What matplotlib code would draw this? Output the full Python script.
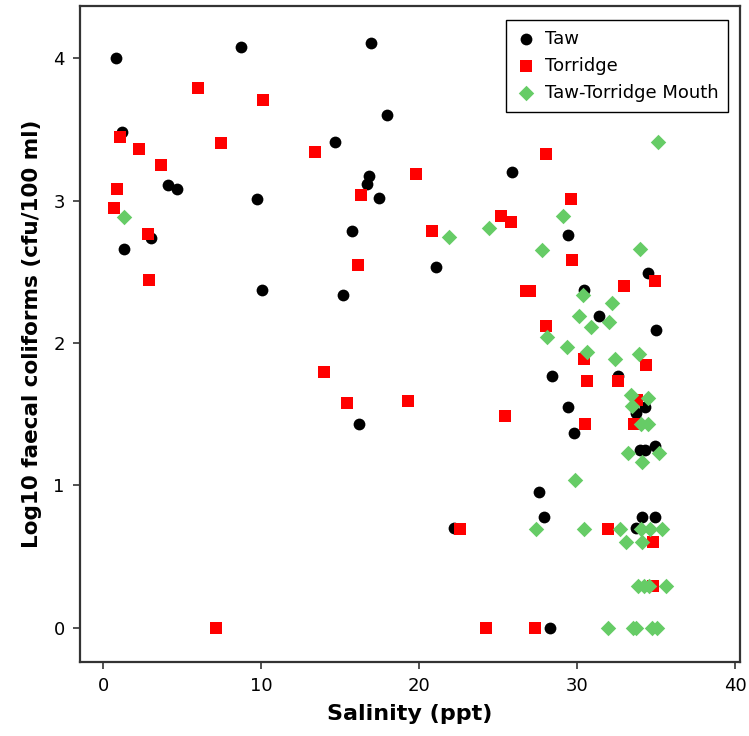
import matplotlib
matplotlib.use("Agg")
import matplotlib.pyplot as plt

# salinity (ppt) and log10 faecal coliforms for each site group
taw_sal = [0.8, 8.75, 16.96, 17.97, 1.22, 14.7, 4.13, 4.66, 9.77, 16.8,
           16.7, 17.47, 15.78, 25.9, 3.04, 1.31, 21.06, 10.08, 15.2, 29.4,
           34.5, 30.4, 31.35, 35.0, 28.4, 32.6, 29.4, 34.26, 33.7, 29.77,
           34.0, 34.3, 34.9, 27.6, 27.9, 34.1, 34.9, 33.7, 28.3, 16.2, 22.2]
taw_fc = [4.0, 4.08, 4.11, 3.60, 3.48, 3.41, 3.11, 3.08, 3.015, 3.17,
          3.12, 3.02, 2.79, 3.20, 2.74, 2.66, 2.535, 2.37, 2.34, 2.76,
          2.49, 2.37, 2.19, 2.09, 1.77, 1.77, 1.55, 1.55, 1.51, 1.37,
          1.25, 1.25, 1.28, 0.955, 0.78, 0.78, 0.78, 0.70, 0.0, 1.43, 0.70]

torr_sal = [5.99, 10.1, 1.08, 2.3, 7.49, 13.44, 3.65, 0.89, 0.72, 2.83,
            2.91, 19.8, 16.3, 20.8, 16.1, 25.2, 25.8, 26.77, 27.03, 28.0,
            28.0, 14.0, 7.17, 15.46, 19.3, 25.4, 22.6, 24.24, 27.36, 29.6,
            29.7, 32.95, 34.9, 30.44, 34.37, 30.6, 32.55, 33.8, 30.5, 33.6,
            31.94, 34.8, 34.77]
torr_fc = [3.79, 3.705, 3.445, 3.36, 3.405, 3.34, 3.25, 3.08, 2.95, 2.765,
           2.44, 3.19, 3.04, 2.79, 2.545, 2.89, 2.85, 2.365, 2.365, 3.33,
           2.12, 1.80, 0.0, 1.58, 1.59, 1.485, 0.695, 0.0, 0.0, 3.015,
           2.58, 2.40, 2.435, 1.885, 1.846, 1.73, 1.73, 1.60, 1.43, 1.43,
           0.695, 0.60, 0.297]

mouth_sal = [1.31, 21.9, 24.4, 27.8, 35.1, 29.1, 34.0, 30.36, 32.2, 30.1,
             30.9, 32.0, 28.1, 29.35, 30.6, 32.4, 33.9, 33.4, 34.5, 33.46,
             34.05, 34.5, 33.2, 35.15, 34.1, 29.87, 27.42, 30.44, 32.72, 34.05,
             34.6, 35.36, 33.08, 34.13, 33.84, 34.2, 34.56, 35.63, 31.94, 33.54,
             33.7, 34.73, 35.04]
mouth_fc = [2.884, 2.746, 2.81, 2.655, 3.41, 2.895, 2.66, 2.34, 2.28, 2.19,
            2.115, 2.15, 2.04, 1.974, 1.94, 1.886, 1.92, 1.635, 1.616, 1.56,
            1.43, 1.43, 1.226, 1.226, 1.167, 1.039, 0.695, 0.695, 0.695, 0.695,
            0.695, 0.695, 0.60, 0.60, 0.297, 0.297, 0.297, 0.297, 0.0, 0.0,
            0.0, 0.0, 0.0]

plt.rcParams["font.family"] = ["DejaVu Sans"]

fig = plt.figure(figsize=(7.49, 7.36), dpi=100)
ax = fig.add_axes([0.107, 0.1005, 0.881, 0.891])

ax.scatter(taw_sal, taw_fc, s=72, c="black", marker="o", linewidths=0, label="Taw")
ax.scatter(torr_sal, torr_fc, s=74, c="#ff0000", marker="s", linewidths=0, label="Torridge")
ax.scatter(mouth_sal, mouth_fc, s=62, c="#66cc66", marker="D", linewidths=0,
           label="Taw-Torridge Mouth")

ax.set_xlim(-1.45, 40.3)
ax.set_ylim(-0.24, 4.365)
ax.set_xticks([0, 10, 20, 30, 40])
ax.set_yticks([0, 1, 2, 3, 4])
ax.tick_params(direction="out", length=5, width=1.2, color="#333333",
               labelsize=13, pad=6)
for sp in ax.spines.values():
    sp.set_linewidth(1.6)
    sp.set_color("#333333")

ax.set_xlabel("Salinity (ppt)", fontsize=16, fontweight="bold", labelpad=6)
ax.set_ylabel("Log10 faecal coliforms (cfu/100 ml)", fontsize=15.5,
              fontweight="bold", labelpad=8)

leg = ax.legend(loc="upper right", bbox_to_anchor=(0.982, 0.979), fontsize=13,
                frameon=True, fancybox=False, framealpha=1, edgecolor="black",
                borderpad=0.55, handletextpad=0.5, labelspacing=0.5,
                handlelength=1.1, borderaxespad=0)
leg.get_frame().set_linewidth(1.0)

fig.savefig("out.png", dpi=100)
